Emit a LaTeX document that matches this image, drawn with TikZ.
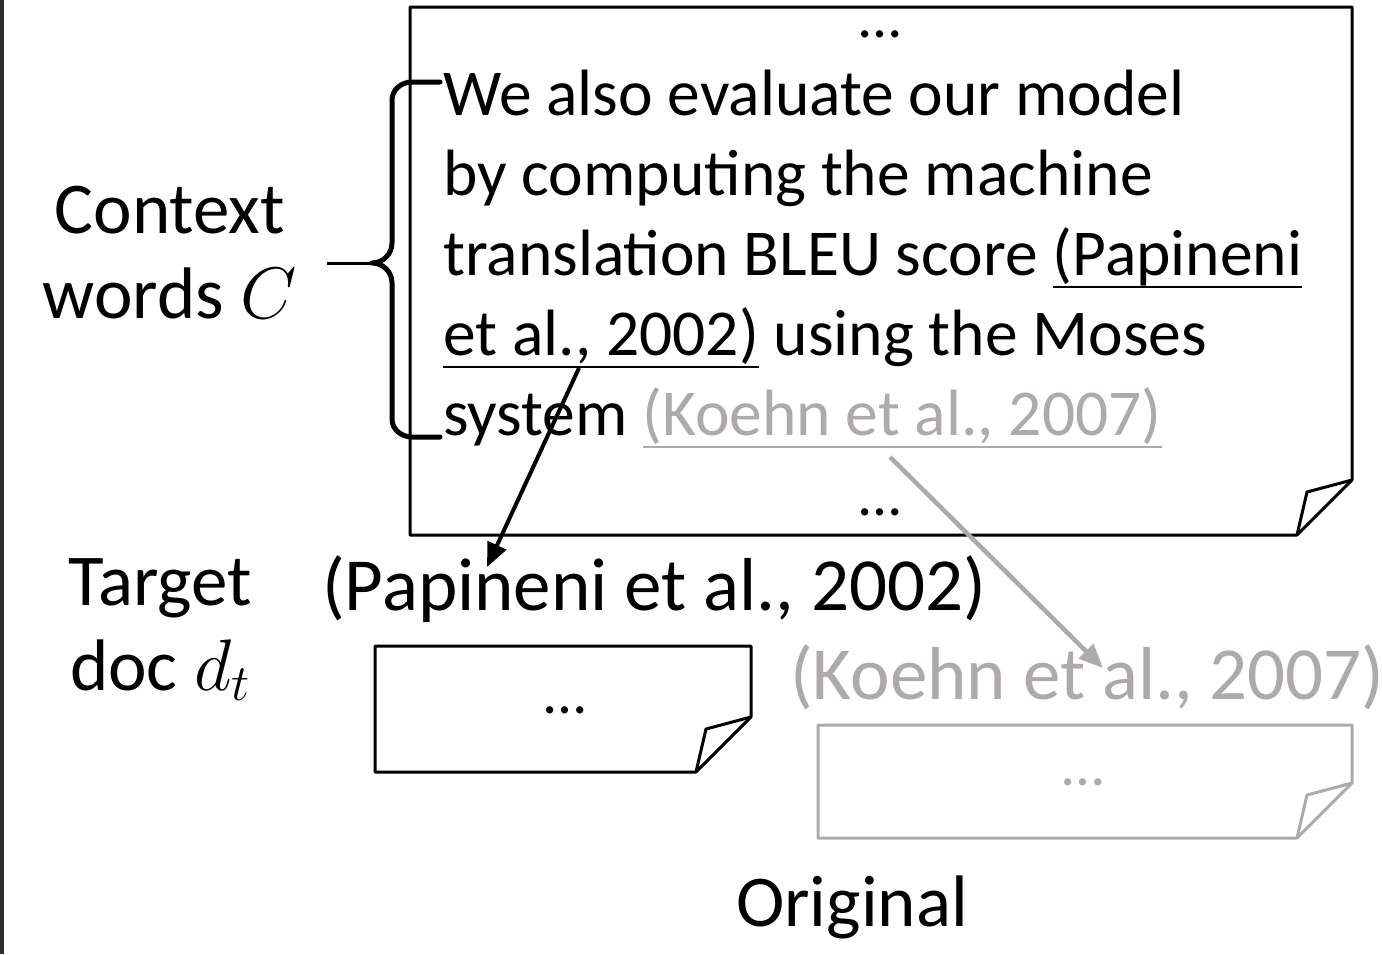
\documentclass[tikz,border=0pt]{standalone}
\usepackage{fix-cm}
\usepackage{fontspec}
\setmainfont{Carlito}
\usepackage{tikz}
\usetikzlibrary{arrows.meta,positioning,calc}

\definecolor{refgray}{RGB}{174,170,170}
\definecolor{sidebar}{RGB}{45,45,45}

% underlined reference text
\newsavebox{\reflinebox}
\newcommand{\refline}[1]{\sbox{\reflinebox}{#1}%
  \rlap{\usebox{\reflinebox}}\rule[-13pt]{\wd\reflinebox}{2pt}}

% page with a folded corner: style, left, top, right, bottom
\newcommand{\docsheet}[5]{%
  \draw[#1] (#2,#3) -- (#4,#3) -- (#4,#5-55) -- (#4-55,#5) -- (#2,#5) -- cycle;
  \draw[#1] (#4,#5-55) -- (#4-45,#5-43) -- (#4-55,#5);
}

\begin{document}
\begin{tikzpicture}[
    x=1pt, y=-1pt,
    >=Triangle,
    docline/.style={line width=3pt, line join=round},
    ctxline/.style={font=\fontsize{65.5}{80}\selectfont, align=left, inner sep=0pt},
    lbl/.style={font=\fontsize{73}{85}\selectfont, align=center, inner sep=0pt},
    reflbl/.style={font=\fontsize{75}{85}\selectfont, inner sep=0pt},
    dotsnode/.style={font=\fontsize{60}{70}\selectfont, inner sep=0pt,
        text height=12pt, text depth=0pt},
    bracepath/.style={line width=5pt, line cap=round, line join=round},
    citearrow/.style={->, line width=4pt, shorten <=0pt,
        >={Triangle[length=24pt, width=20pt]}}
]
\useasboundingbox (0,0) rectangle (1382,954);
\fill[sidebar] (0,0) rectangle (4,954);

% the citing document
\docsheet{docline}{410}{7}{1352}{535}
\node[dotsnode, anchor=base] (topdots) at (880,37) {\dots};
\node[dotsnode, anchor=base] (botdots) at (880,515) {\dots};
\node[ctxline, anchor=base west] (ctxtext) at (443,435) {We also evaluate our model\\
  by computing the machine\\
  translation BLEU score \refline{(Papineni}\\
  \refline{et al., 2002)} using the Moses\\
  system \textcolor{refgray}{\refline{(Koehn et al., 2007)}}};

% context words
\coordinate (bracetip) at (372,263);
\draw[bracepath] (440,82) -- (412,82) to[out=180,in=90] (392,100) -- (392,243)
  to[out=-90,in=0] (bracetip) to[out=0,in=90] (392,283) -- (392,419)
  to[out=-90,in=180] (412,437) -- (440,437);
\node[lbl, anchor=base] (ctxlbl) at (170,318) {Context\\words $C$};
\draw[line width=3pt] ([xshift=30pt]ctxlbl.east |- bracetip) -- (bracetip);

% target and original documents
\node[lbl, anchor=base] (tgtlbl) at (160,690) {Target\\doc $d_t$};
\node[reflbl, anchor=base west] (papref) at (322,610) {(Papineni et al., 2002)};
\docsheet{docline}{375}{646}{751}{772}
\node[dotsnode, anchor=base] (tgtdots) at (565,713) {\dots};

\node[reflbl, anchor=base west, text=refgray] (koeref) at (790,699) {(Koehn et al., 2007)};
\docsheet{docline, draw=refgray}{818}{725}{1352}{838}
\node[dotsnode, anchor=base, text=refgray] (orgdots) at (1083,785) {\dots};
\node[lbl, anchor=base] (orig) at (852,926) {Original};

% citation links
\coordinate (papsrc) at (579,368);
\coordinate (papdst) at (487,567);
\coordinate (koesrc) at (890,457);
\coordinate (koedst) at (1103,668);
\draw[citearrow] (papsrc) -- (papdst);
\draw[citearrow, draw=refgray, fill=refgray, line width=4.5pt] (koesrc) -- (koedst);
\end{tikzpicture}
\end{document}
